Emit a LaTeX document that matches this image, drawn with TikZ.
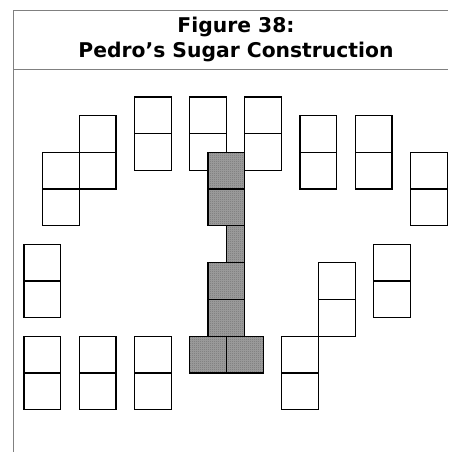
\documentclass[tikz,border=0pt]{standalone}
\usepackage{fontspec}
\setmainfont{DejaVu Sans}
\usetikzlibrary{patterns}
\pgfdeclarepatternformonly{finecheck}{\pgfpointorigin}{\pgfqpoint{2pt}{2pt}}{\pgfqpoint{2pt}{2pt}}{%
  \pgfpathrectangle{\pgfpointorigin}{\pgfqpoint{1pt}{1pt}}%
  \pgfpathrectangle{\pgfqpoint{1pt}{1pt}}{\pgfqpoint{1pt}{1pt}}%
  \pgfusepath{fill}}
\tikzset{
  frameline/.style={draw=gray, line width=1pt},
  cell/.style={draw=black, line width=1.3pt, fill=white},
  shadecell/.style={draw=black, line width=1.3pt},
  titletext/.style={font=\bfseries\fontsize{20.3}{24}\selectfont, anchor=base, inner sep=0pt}
}
\newcommand{\domino}[2]{%
  \draw[cell] (#1,#2) rectangle ++(2,4);
  \draw[line width=1.3pt] (#1,#2+2) -- ++(2,0);}
\newcommand{\shadebox}[4]{%
  \fill[gray!75] (#1,#2) rectangle ++(#3,#4);
  \fill[pattern=finecheck, pattern color=black!55] (#1,#2) rectangle ++(#3,#4);
  \draw[shadecell] (#1,#2) rectangle ++(#3,#4);}
\begin{document}
\begin{tikzpicture}[x=1pt,y=-1pt]
\useasboundingbox (0,0) rectangle (448,452);
\fill[white] (0,0) rectangle (448,452);
% frame
\draw[frameline] (13,452) -- (13,11) -- (448,11);
\draw[frameline] (13,69) -- (448,69);
\node[titletext] (t1) at (236,32.7) {Figure 38:};
\node[titletext] (t2) at (236,57.3) {Pedro’s Sugar Construction};
\begin{scope}[shift={(24,97)}, x=18.4pt, y=-18.4pt]
  % dominoes
  \domino{6}{0}
  \domino{9}{0}
  \domino{12}{0}
  \domino{15}{1}
  \domino{18}{1}
  \domino{21}{3}
  \domino{0}{8}
  \domino{19}{8}
  \domino{16}{9}
  \domino{0}{13}
  \domino{3}{13}
  \domino{6}{13}
  \domino{14}{13}
  % S shape
  \draw[cell] (3,1) rectangle ++(2,2);
  \draw[cell] (3,3) rectangle ++(2,2);
  \draw[cell] (1,3) rectangle ++(2,2);
  \draw[cell] (1,5) rectangle ++(2,2);
  % shaded construction
  \shadebox{10}{3}{2}{2}
  \shadebox{10}{5}{2}{2}
  \shadebox{11}{7}{1}{2}
  \shadebox{10}{9}{2}{2}
  \shadebox{10}{11}{2}{2}
  \shadebox{9}{13}{2}{2}
  \shadebox{11}{13}{2}{2}
\end{scope}
\end{tikzpicture}
\end{document}
